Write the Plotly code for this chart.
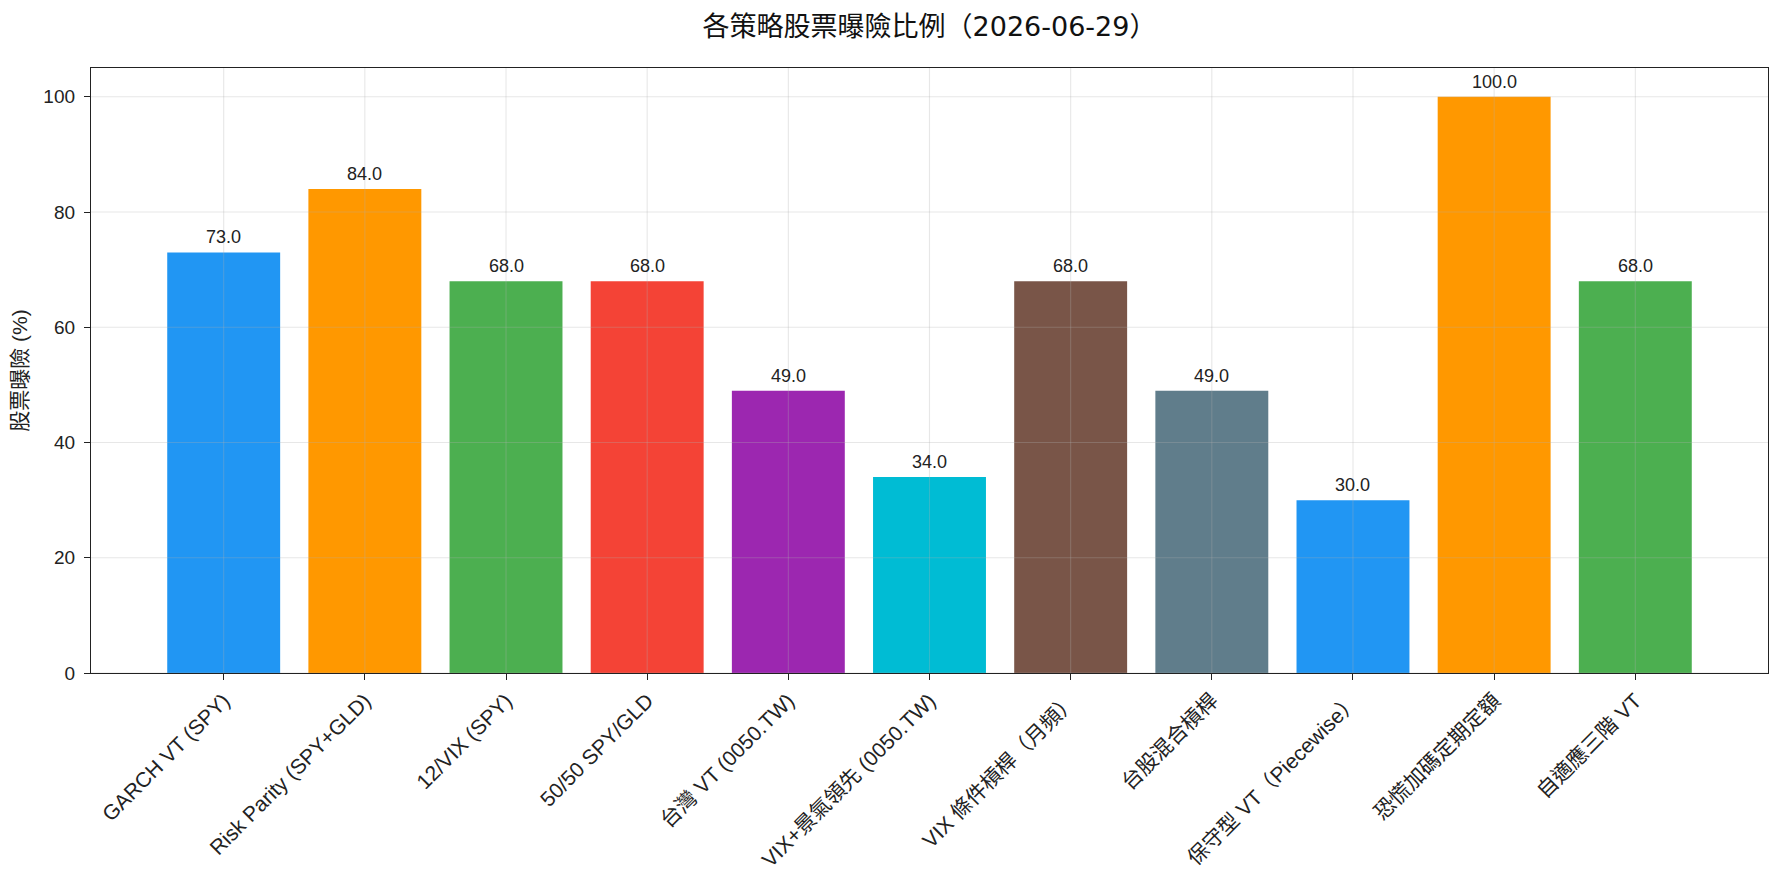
import plotly.graph_objects as go

categories = [
    "GARCH VT (SPY)", "Risk Parity (SPY+GLD)", "12/VIX (SPY)", "50/50 SPY/GLD",
    "台灣 VT (0050.TW)", "VIX+景氣領先 (0050.TW)", "VIX 條件槓桿（月頻）",
    "台股混合槓桿", "保守型 VT（Piecewise）", "恐慌加碼定期定額", "自適應三階 VT",
]
exposure = [73.0, 84.0, 68.0, 68.0, 49.0, 34.0, 68.0, 49.0, 30.0, 100.0, 68.0]
colors = ["#2196F3", "#FF9800", "#4CAF50", "#F44336", "#9C27B0", "#00BCD4",
          "#795548", "#607D8B", "#2196F3", "#FF9800", "#4CAF50"]
y_ticks = [0, 20, 40, 60, 80, 100]

FONT = "Liberation Sans, Noto Sans CJK TC, sans-serif"
TITLE_FONT = "DejaVu Sans, Noto Sans CJK TC, sans-serif"
GRID = "rgba(176,176,176,0.3)"

fig = go.Figure()
fig.add_trace(go.Bar(
    x=categories, y=exposure, marker=dict(color=colors, line=dict(width=0)),
    width=0.8, showlegend=False, hoverinfo="x+y",
))

annotations = []
for c, v in zip(categories, exposure):
    annotations.append(dict(
        x=c, y=v, xref="x", yref="y", text=f"{v:.1f}", showarrow=False,
        yanchor="bottom", yshift=3, font=dict(family=FONT, size=18, color="#222"),
    ))

shapes = []
for c in categories:
    shapes.append(dict(type="line", xref="x", yref="paper", x0=c, x1=c, y0=0, y1=1,
                       line=dict(color=GRID, width=1.1), layer="above"))
for t in y_ticks:
    shapes.append(dict(type="line", xref="paper", yref="y", x0=0, x1=1, y0=t, y1=t,
                       line=dict(color=GRID, width=1.1), layer="above"))

fig.update_layout(
    width=1782, height=884,
    margin=dict(l=91, r=14, t=68, b=211, autoexpand=False),
    paper_bgcolor="white", plot_bgcolor="white",
    font=dict(family=FONT, color="#222"),
    title=dict(text="各策略股票曝險比例（2026-06-29）", x=0.5, xref="paper",
               y=1 - 27 / 884, yref="container", yanchor="middle", xanchor="center",
               font=dict(family=TITLE_FONT, size=27, color="#111")),
    annotations=annotations, shapes=shapes,
    bargap=0.2,
)
fig.update_xaxes(
    range=[-0.94, 10.94], tickangle=-45, showgrid=False,
    showline=True, mirror=True, linecolor="#222", linewidth=1.3,
    ticks="outside", ticklen=6, tickwidth=1.3, tickcolor="#222",
    tickfont=dict(family=FONT, size=21, color="#222"), automargin=False,
)
fig.update_yaxes(
    range=[0, 105], tickvals=y_ticks, showgrid=False, zeroline=False,
    showline=True, mirror=True, linecolor="#222", linewidth=1.3,
    ticks="outside", ticklen=6, tickwidth=1.3, tickcolor="#222",
    ticklabelstandoff=5,
    tickfont=dict(family=FONT, size=19, color="#222"), automargin=False,
    title=dict(text="股票曝險 (%)", standoff=9, font=dict(family=FONT, size=21, color="#222")),
)

fig.write_html("out.html")
